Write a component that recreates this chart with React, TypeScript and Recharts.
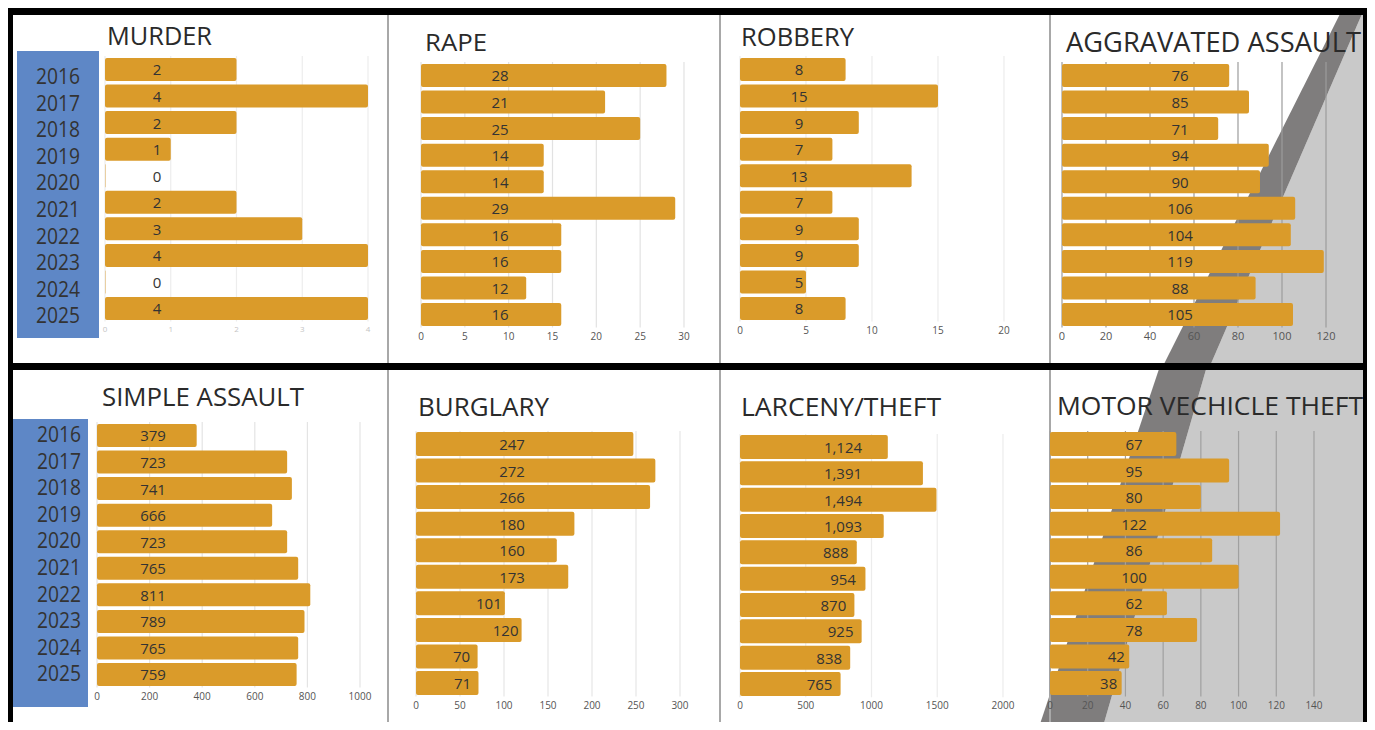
import React from 'react';
import { BarChart, Bar, XAxis, YAxis, CartesianGrid, LabelList } from 'recharts';

const years = ['2016', '2017', '2018', '2019', '2020', '2021', '2022', '2023', '2024', '2025'];

const murder = [2, 4, 2, 1, 0, 2, 3, 4, 0, 4];
const rape = [28, 21, 25, 14, 14, 29, 16, 16, 12, 16];
const robbery = [8, 15, 9, 7, 13, 7, 9, 9, 5, 8];
const aggravatedAssault = [76, 85, 71, 94, 90, 106, 104, 119, 88, 105];
const simpleAssault = [379, 723, 741, 666, 723, 765, 811, 789, 765, 759];
const burglary = [247, 272, 266, 180, 160, 173, 101, 120, 70, 71];
const larceny = [1124, 1391, 1494, 1093, 888, 954, 870, 925, 838, 765];
const motorVehicleTheft = [67, 95, 80, 122, 86, 100, 62, 78, 42, 38];

const murderTicks = [0, 1, 2, 3, 4];
const rapeTicks = [0, 5, 10, 15, 20, 25, 30];
const robberyTicks = [0, 5, 10, 15, 20];
const aggravatedTicks = [0, 20, 40, 60, 80, 100, 120];
const simpleTicks = [0, 200, 400, 600, 800, 1000];
const burglaryTicks = [0, 50, 100, 150, 200, 250, 300];
const larcenyTicks = [0, 500, 1000, 1500, 2000];
const motorTicks = [0, 20, 40, 60, 80, 100, 120, 140];

const FONT = "'Open Sans', 'Noto Sans', sans-serif";
const BAR = '#DA9B2A';
const BLUE = '#5E87C6';
const AXIS_W = 90;
const X_AXIS_H = 22;
const TOP_PAD = 14;

// layout per panel (pixels in the 1375x730 page)
const panels = [
  { title: 'MURDER', values: murder, ticks: murderTicks, x0: 105, x1: 368, firstTop: 58, lastBottom: 320, barSize: 23, labelX: 157, titleX: 107, titleY: 45, titleW: 105, titleSize: 25, yearRight: 80, yearDy: 6, grid: '#ededed', tickColor: '#c4c4c4', tickSize: 8 },
  { title: 'RAPE', values: rape, ticks: rapeTicks, x0: 421, x1: 684, firstTop: 64, lastBottom: 326, barSize: 23, labelX: 500, titleX: 425, titleY: 51, titleW: 62, titleSize: 24, grid: '#e2e2e2', tickColor: '#555', tickSize: 10 },
  { title: 'ROBBERY', values: robbery, ticks: robberyTicks, x0: 740, x1: 1004, firstTop: 58, lastBottom: 320, barSize: 23, labelX: 799, titleX: 741, titleY: 46, titleW: 113, titleSize: 25, grid: '#ececec', tickColor: '#555', tickSize: 10 },
  { title: 'AGGRAVATED ASSAULT', values: aggravatedAssault, ticks: aggravatedTicks, x0: 1062, x1: 1326, firstTop: 64, lastBottom: 326, barSize: 23, labelX: 1180, titleX: 1066, titleY: 52, titleW: 295, titleSize: 27, grid: '#9c9c9c', tickColor: '#555', tickSize: 11 },
  { title: 'SIMPLE ASSAULT', values: simpleAssault, ticks: simpleTicks, x0: 97, x1: 360, firstTop: 424, lastBottom: 686, barSize: 23, labelX: 153, titleX: 102, titleY: 406, titleW: 202, titleSize: 25, yearRight: 81, yearDy: -2, grid: '#e4e4e4', tickColor: '#555', tickSize: 10 },
  { title: 'BURGLARY', values: burglary, ticks: burglaryTicks, x0: 416, x1: 680, firstTop: 432, lastBottom: 695, barSize: 24, labelX: 512, labelBack: 16, titleX: 418, titleY: 416, titleW: 131, titleSize: 26, grid: '#e6e6e6', tickColor: '#555', tickSize: 10 },
  { title: 'LARCENY/THEFT', values: larceny, ticks: larcenyTicks, x0: 740, x1: 1003, firstTop: 435, lastBottom: 696, barSize: 24, labelX: 843, labelBack: 21, titleX: 741, titleY: 416, titleW: 200, titleSize: 26, grid: '#ececec', tickColor: '#555', tickSize: 10 },
  { title: 'MOTOR VECHICLE THEFT', values: motorVehicleTheft, ticks: motorTicks, x0: 1050, x1: 1314, firstTop: 432, lastBottom: 695, barSize: 24, labelX: 1134, labelBack: 13, titleX: 1057, titleY: 415, titleW: 306, titleSize: 26, grid: '#a0a0a0', tickColor: '#555', tickSize: 10 },
];

const fmt = (v: number) => (v >= 1000 ? v.toLocaleString('en-US') : String(v));

function Panel({ p }: { p: any }) {
  const band = (p.lastBottom - p.firstTop - p.barSize) / 9;
  const plotTop = p.firstTop - (band - p.barSize) / 2;
  const plotH = band * 10;
  const left = p.x0 - AXIS_W;
  const top = plotTop - TOP_PAD;
  const width = AXIS_W + (p.x1 - p.x0) + 12;
  const height = TOP_PAD + plotH + X_AXIS_H;
  const data = years.map((y, i) => ({ year: y, value: p.values[i] }));

  const yearTick = (props: any) => (
    <text
      x={p.yearRight - left}
      y={props.y + p.yearDy}
      textAnchor="end"
      dominantBaseline="central"
      fontFamily={FONT}
      fontSize={22}
      fill="#333"
      textLength={44}
      lengthAdjust="spacingAndGlyphs"
    >
      {props.payload.value}
    </text>
  );

  const valueLabel = (props: any) => {
    const vb = props.viewBox || {};
    const x = Number(props.x ?? vb.x);
    const y = Number(props.y ?? vb.y);
    const w = Number(props.width ?? vb.width ?? 0);
    const h = Number(props.height ?? vb.height ?? 0);
    let cx = p.labelX - left;
    if (p.labelBack != null) cx = Math.min(cx, x + w - p.labelBack);
    return (
      <text x={cx} y={y + h / 2} textAnchor="middle" dominantBaseline="central" fontFamily={FONT} fontSize={15} fill="#333">
        {fmt(Number(props.value))}
      </text>
    );
  };

  return (
    <div style={{ position: 'absolute', left, top, width, height }}>
      <BarChart
        width={width}
        height={height}
        data={data}
        layout="vertical"
        margin={{ top: TOP_PAD, right: 12, bottom: 0, left: 0 }}
        barCategoryGap={0}
      >
        <CartesianGrid horizontal={false} stroke={p.grid} strokeWidth={1.2} />
        <XAxis
          type="number"
          domain={[0, p.ticks[p.ticks.length - 1]]}
          ticks={p.ticks}
          interval={0}
          axisLine={false}
          tickLine={false}
          tickSize={3}
          tickMargin={2}
          height={X_AXIS_H}
          tick={{ fontSize: p.tickSize, fill: p.tickColor, fontFamily: FONT }}
        />
        <YAxis
          type="category"
          dataKey="year"
          width={AXIS_W}
          axisLine={false}
          tickLine={false}
          interval={0}
          tick={p.yearRight ? yearTick : false}
        />
        <Bar dataKey="value" fill={BAR} barSize={p.barSize} radius={2} minPointSize={0.4} isAnimationActive={false}>
          <LabelList dataKey="value" content={valueLabel} />
        </Bar>
      </BarChart>
    </div>
  );
}

export default function App() {
  return (
    <div style={{ position: 'relative', width: 1375, height: 730, margin: -8, overflow: 'hidden', background: '#fff' }}>
      <svg width={1375} height={730} style={{ position: 'absolute', left: 0, top: 0 }}>
        <rect width={1375} height={730} fill="#fff" />
        {/* diagonal decoration on the right column */}
        <polygon points="1368,0 1370,0 1370,366 1210,366" fill="#c9c9c9" />
        <polygon points="1347,0 1368,0 1210,366 1163,366" fill="#7f7d7d" />
        <polygon points="1207,366 1370,366 1370,730 1102,730" fill="#c9c9c9" />
        <polygon points="1160,366 1207,366 1102,730 1038,730" fill="#7f7d7d" />
        {/* panel separators */}
        {[388, 720, 1050].map((x) => (
          <line key={x} x1={x} x2={x} y1={15} y2={730} stroke="#a8a8a8" strokeWidth={2} />
        ))}
        {/* blue year boxes */}
        <rect x={17} y={51} width={82} height={287} fill={BLUE} />
        <rect x={12} y={419} width={76} height={288} fill={BLUE} />
        {/* titles */}
        {panels.map((p) => (
          <text
            key={p.title}
            x={p.titleX}
            y={p.titleY}
            fontFamily={FONT}
            fontSize={p.titleSize}
            fill="#2a2a2a"
            textLength={p.titleW}
            lengthAdjust="spacingAndGlyphs"
          >
            {p.title}
          </text>
        ))}
        {/* black frame */}
        <rect x={5} y={8} width={1365} height={7} fill="#000" />
        <rect x={5} y={363} width={1365} height={7} fill="#000" />
        <rect x={5} y={8} width={8} height={722} fill="#000" />
        <rect x={1363} y={8} width={7} height={722} fill="#000" />
      </svg>
      {panels.map((p) => (
        <Panel key={p.title} p={p} />
      ))}
    </div>
  );
}
